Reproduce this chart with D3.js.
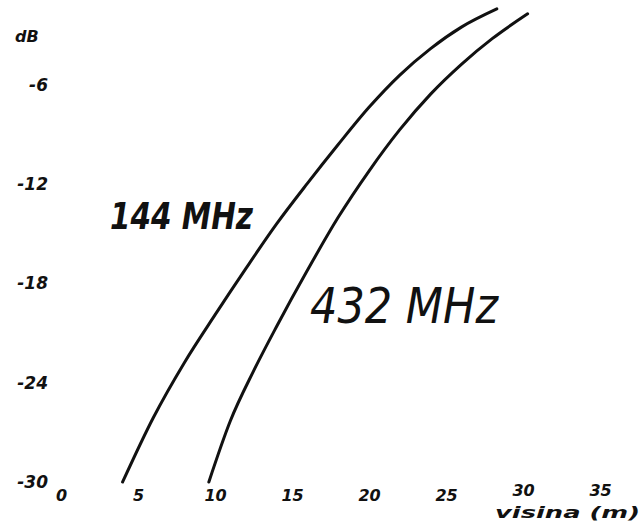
<!DOCTYPE html>
<html lang="sr">
<head>
<meta charset="UTF-8">
<title>dB / visina</title>
<script src="https://d3js.org/d3.v7.min.js"></script>
<style>
  body { margin: 0; background: #fff; }
  .tick text { font-family: "DejaVu Sans", sans-serif; font-style: italic; font-weight: bold; fill: #111; }
  path.curve { fill: none; stroke: #111; stroke-width: 3px; stroke-linecap: round; }
  .lbl { font-family: "DejaVu Sans", sans-serif; font-style: italic; fill: #111; }
</style>
</head>
<body>
<div id="chart"></div>
<script>
// data: antenna height (m) vs. loss (dB)
const yTicks = [-6, -12, -18, -24, -30];
const xTicks = [0, 5, 10, 15, 20, 25, 30, 35];

const height144 = [4.0, 6, 8, 10, 12, 14, 16, 18, 20, 22, 24, 26, 28.3];
const db144     = [-30, -26.1, -22.8, -19.9, -17.1, -14.4, -11.95, -9.6, -7.35, -5.4, -3.8, -2.5, -1.4];

const height432 = [9.6, 11, 12.5, 14, 16, 18, 20, 22, 24, 26, 28, 30.3];
const db432     = [-30, -26.3, -23.3, -20.6, -17.2, -14.0, -11.2, -8.7, -6.55, -4.75, -3.2, -1.7];

const width = 642, height = 521;

const svg = d3.select("#chart").append("svg")
    .attr("width", width)
    .attr("height", height);

// scales
const x = d3.scaleLinear().domain([0, 35]).range([61, 600]);
const y = d3.scaleLinear().domain([-30, -6]).range([482, 85]);

// y axis: only the labels, no line
const yAxis = svg.append("g")
    .attr("transform", "translate(48,0)")
    .call(d3.axisLeft(y).tickValues(yTicks).tickSize(0).tickPadding(0)
        .tickFormat(d => String(d)));
yAxis.select(".domain").remove();
yAxis.selectAll("text").style("font-size", "17px");

// x axis labels
const xAxis = svg.append("g")
    .attr("transform", "translate(0,490)")
    .call(d3.axisBottom(x).tickValues(xTicks).tickSize(0).tickPadding(0));
xAxis.select(".domain").remove();
xAxis.selectAll("text").style("font-size", "16px");
// the last two numbers sit a bit higher, above the axis title
xAxis.selectAll(".tick").filter(d => d >= 30)
    .select("text").attr("y", -5);

// unit labels
svg.append("text").attr("class", "lbl")
    .attr("x", 15).attr("y", 42)
    .style("font-size", "16px").style("font-weight", "bold")
    .text("dB");

svg.append("text").attr("class", "lbl")
    .attr("x", 495).attr("y", 518)
    .style("font-size", "16px").style("font-weight", "bold")
    .attr("textLength", 145).attr("lengthAdjust", "spacingAndGlyphs")
    .text("visina (m)");

// curves
const line = d3.line()
    .x(d => x(d[0]))
    .y(d => y(d[1]))
    .curve(d3.curveMonotoneX);

const series = [
  { name: "144 MHz", pts: d3.zip(height144, db144) },
  { name: "432 MHz", pts: d3.zip(height432, db432) }
];

svg.selectAll("path.curve")
    .data(series)
    .enter()
    .append("path")
    .attr("class", "curve")
    .attr("d", d => line(d.pts));

// series names
svg.append("text").attr("class", "lbl")
    .attr("x", 110).attr("y", 229)
    .style("font-size", "38px").style("font-weight", "bold")
    .attr("textLength", 143).attr("lengthAdjust", "spacingAndGlyphs")
    .text(series[0].name);

svg.append("text").attr("class", "lbl")
    .attr("x", 310).attr("y", 323)
    .style("font-size", "50px")
    .attr("textLength", 188).attr("lengthAdjust", "spacingAndGlyphs")
    .text(series[1].name);
</script>
</body>
</html>
